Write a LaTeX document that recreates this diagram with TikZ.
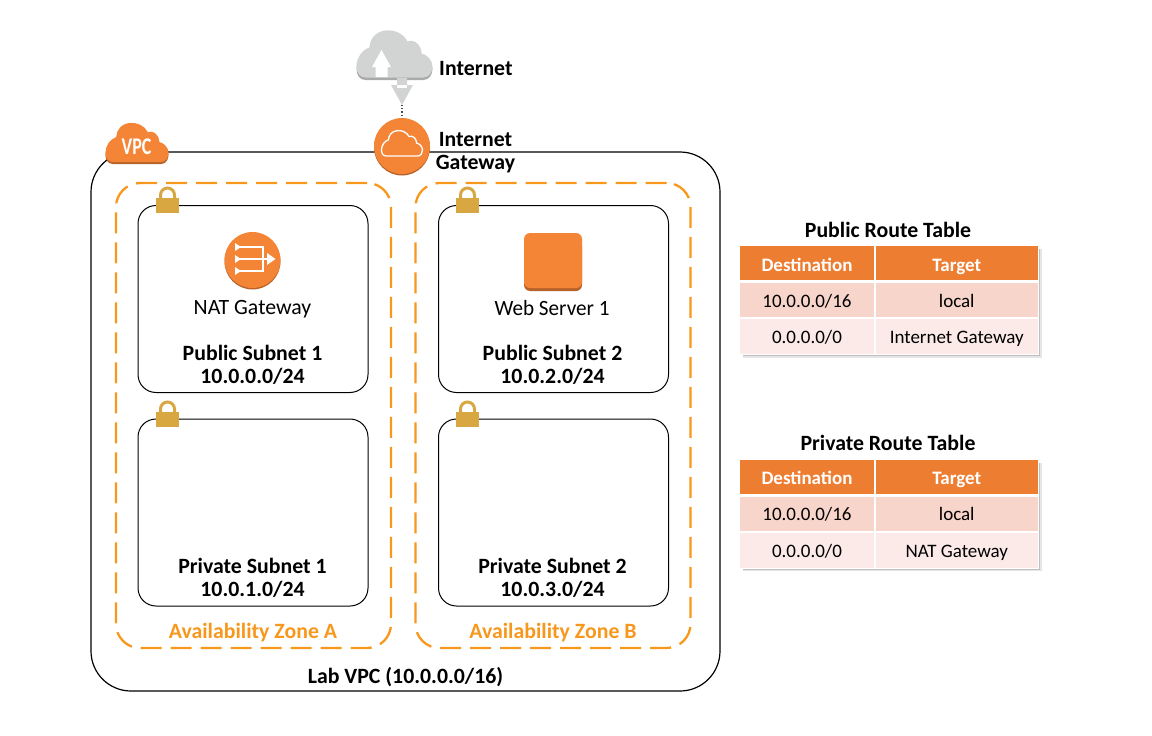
\documentclass[tikz,border=0pt]{standalone}
\usepackage{fontspec}
\setmainfont{Carlito}
\usetikzlibrary{calc}
\definecolor{awsorange}{HTML}{F58536}
\definecolor{awsshade}{HTML}{B8622A}
\definecolor{zoneorange}{HTML}{F7981D}
\definecolor{lockgold}{HTML}{D9A741}
\definecolor{cloudgray}{HTML}{D2D4D3}
\definecolor{cloudshade}{HTML}{A9AAA9}
\definecolor{headorange}{HTML}{ED7D31}
\definecolor{rowdark}{HTML}{F8D5CA}
\definecolor{rowlight}{HTML}{FBEAE7}
\newcommand{\cloudpath}{(-29,0) -- (29,0) .. controls (35,0) and (38,-6) .. (38,-11) .. controls (38,-18) and (32,-23) .. (27,-24) .. controls (27,-32) and (20,-39) .. (13,-36) .. controls (9,-44) and (0,-48) .. (-9,-47) .. controls (-19,-46) and (-25,-38) .. (-25,-30) .. controls (-32,-28) and (-38,-20) .. (-38,-11) .. controls (-38,-5) and (-35,0) .. (-29,0) -- cycle}
\tikzset{
  boldtext/.style={font=\bfseries\fontsize{21.8}{23}\selectfont, text=black, inner sep=0pt, align=center},
  icontext/.style={font=\fontsize{21.8}{23}\selectfont, text=black, inner sep=0pt},
  vpcbox/.style={draw=black, line width=1.2pt, rounded corners=40pt, minimum width=629pt, minimum height=539pt, inner sep=0pt},
  zonebox/.style={draw=zoneorange, line width=2.3pt, rounded corners=24pt, dash pattern=on 21pt off 9pt, minimum width=275pt, minimum height=465pt, inner sep=0pt},
  subnetbox/.style={draw=black, line width=1pt, rounded corners=18pt, minimum width=230pt, minimum height=187pt, inner sep=0pt},
  zonetext/.style={boldtext, text=zoneorange},
  headcell/.style={fill=headorange, text=white, font=\bfseries\fontsize{19}{21}\selectfont, minimum height=34pt, inner sep=0pt, text height=17pt, text depth=1pt},
  rowcell/.style={text=black, font=\fontsize{19}{21}\selectfont, minimum height=34pt, inner sep=0pt, text height=17pt, text depth=3pt},
  roundicon/.pic={
    \fill[awsshade] (0,1.5) circle (28);
    \fill[awsorange] (0,0) circle (28);
  },
  lockicon/.pic={
    \draw[lockgold, line width=3pt] (-7,-5) -- (-7,-10) arc (180:360:7) -- (7,-5);
    \fill[lockgold] (-11.5,-7) rectangle (11.5,8);
  }
}
\begin{document}
\begin{tikzpicture}[x=1pt, y=-1pt]
\useasboundingbox (0,0) rectangle (1152,736);
% boxes
\node[vpcbox] (vpc) at (405.5,421.5) {};
\node[zonebox] (zoneA) at (253.5,415.5) {};
\node[zonebox] (zoneB) at (553,415.5) {};
\node[subnetbox] (pubA) at (253,299) {};
\node[subnetbox] (pubB) at (553.5,299) {};
\node[subnetbox] (privA) at (253,512.5) {};
\node[subnetbox] (privB) at (553.5,512.5) {};
% locks
\foreach \name/\xpos/\ypos in {lockA/167.5/205, lockB/467.5/205, lockC/167.5/419, lockD/467.5/419} {
  \pic (\name) at (\xpos,\ypos) {lockicon};
}
% vpc cloud
\begin{scope}[shift={(137,164)}, xscale=.83, yscale=.83]
\fill[awsshade] \cloudpath;
\end{scope}
\begin{scope}[shift={(137,162)}, xscale=.83, yscale=.83]
\fill[awsorange] \cloudpath;
\end{scope}
\node[font=\bfseries\fontsize{24}{26}\selectfont, text=white, inner sep=0pt, xscale=.75] (vpctag) at (136.5,147) {VPC};
% internet cloud and arrow
\begin{scope}[shift={(394.5,80)}]
\fill[cloudshade] \cloudpath;
\end{scope}
\begin{scope}[shift={(394.5,77.5)}]
\fill[cloudgray] \cloudpath;
\fill[white] (-19,-0.5) -- (-19,-10.5) -- (-22.5,-10.5) -- (-13,-27.5) -- (-3.5,-10.5) -- (-7,-10.5) -- (-7,-0.5) -- cycle;
\end{scope}
\coordinate (cloudtip) at (402,105);
\fill[cloudgray] (397,78) rectangle (407,88) (391,85) -- (413,85) -- (402,105) -- cycle;
% gateway
\pic (igwicon) at (402,146) {roundicon};
\node[circle, minimum size=56pt, inner sep=0pt] (igw) at (402,146) {};
\draw[black!70, line width=1.2pt, dotted] (cloudtip) -- (igw);
\begin{scope}[shift={(402,156)}, xscale=.54, yscale=.54]
\draw[white, line width=1.3pt] \cloudpath;
\end{scope}
% nat gateway
\pic (naticon) at (252.5,260) {roundicon};
\node[circle, minimum size=56pt, inner sep=0pt] (nat) at (252.5,260) {};
\draw[white, line width=1.5pt] (238,247) -- (263,247) -- (263,271) -- (238,271) (238,259) -- (269,259);
\fill[white] (235,243) -- (241,247) -- (235,251) -- cycle (235,255) -- (241,259) -- (235,263) -- cycle (235,267) -- (241,271) -- (235,275) -- cycle (267,253) -- (275.5,259) -- (267,265) -- cycle;
% web server
\fill[awsshade, rounded corners=6pt] (524,240) rectangle (582,291);
\fill[awsorange, rounded corners=6pt] (524,233) rectangle (582,288);
\coordinate (web) at (553,262);
% labels
\node[boldtext, anchor=west] (internet) at (439,69) {Internet};
\node[boldtext] (igwlabel) at (475.5,152.5) {Internet\\Gateway};
\node[icontext] (natlabel) at (252.5,309) {NAT Gateway};
\node[icontext, xscale=.97] (weblabel) at (552,308) {Web Server 1};
\node[boldtext] (pubAlabel) at (252.5,364.5) {Public Subnet 1\\10.0.0.0/24};
\node[boldtext] (pubBlabel) at (552.5,364.5) {Public Subnet 2\\10.0.2.0/24};
\node[boldtext] (privAlabel) at (252.5,578) {Private Subnet 1\\10.0.1.0/24};
\node[boldtext] (privBlabel) at (552.5,578) {Private Subnet 2\\10.0.3.0/24};
\node[zonetext] (zoneAlabel) at (253,632.5) {Availability Zone A};
\node[zonetext] (zoneBlabel) at (553,632.5) {Availability Zone B};
\node[boldtext] (vpclabel) at (405.5,677) {Lab VPC (10.0.0.0/16)};
% route tables
\foreach \tab/\ytop/\title/\natname in {pub/246/Public Route Table/Internet Gateway, priv/459.5/Private Route Table/NAT Gateway} {
  \fill[black!10] (743,\ytop+3) rectangle (1041.5,\ytop+111.5);
  \fill[black!25] (743,\ytop+3) rectangle (1040,\ytop+110);
  \fill[white] (739,\ytop-1) rectangle (1038.5,\ytop+109);
  \node[boldtext] (\tab title) at (888,\ytop-16.5) {\title};
  \node[headcell, minimum width=134pt] (\tab h1) at (807,\ytop+17) {Destination};
  \node[headcell, minimum width=161.5pt] (\tab h2) at (956.75,\ytop+17) {Target};
  \node[rowcell, fill=rowdark, minimum width=134pt] (\tab a1) at (807,\ytop+54.3) {10.0.0.0/16};
  \node[rowcell, fill=rowdark, minimum width=161.5pt] (\tab a2) at (956.75,\ytop+54.3) {local};
  \node[rowcell, fill=rowlight, minimum width=134pt, minimum height=35pt] (\tab b1) at (807,\ytop+90.5) {0.0.0.0/0};
  \node[rowcell, fill=rowlight, minimum width=161.5pt, minimum height=35pt] (\tab b2) at (956.75,\ytop+90.5) {\natname};
}
\end{tikzpicture}
\end{document}
